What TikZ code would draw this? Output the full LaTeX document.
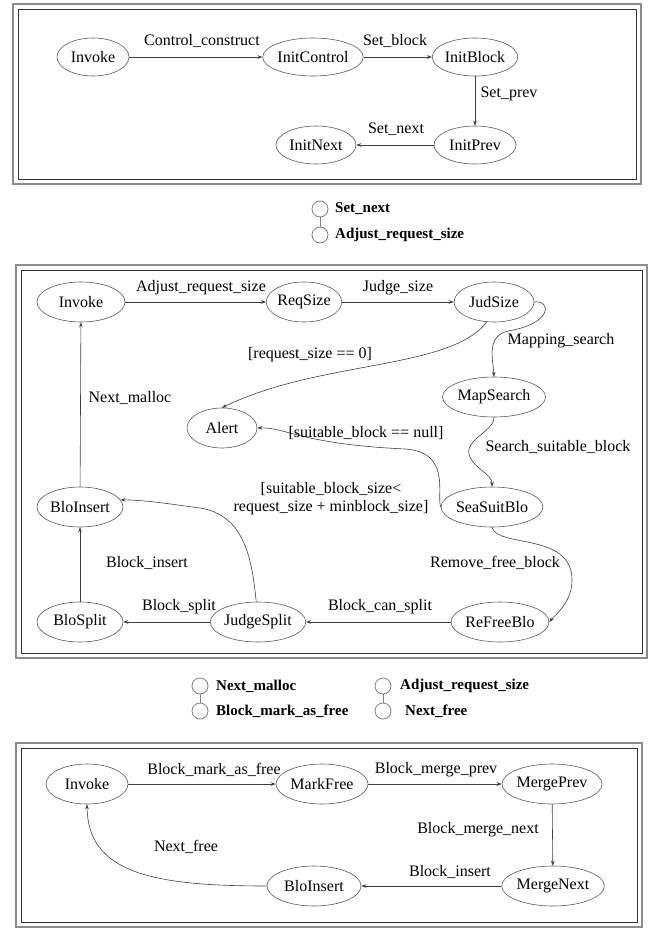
\documentclass[tikz,border=0pt]{standalone}
\usepackage{fontspec}
\setmainfont{Liberation Serif}
\usetikzlibrary{shapes.geometric,arrows.meta}

\begin{document}
\begin{tikzpicture}[x=1pt, y=-1pt, ->, >={Stealth[length=5pt,width=3.6pt]},
      every node/.append style={font=\fontsize{16}{16}\selectfont},
      state/.style={ellipse, draw=black!65, line width=0.6pt, minimum height=38pt,
        inner sep=0pt, font=\fontsize{16}{16}\selectfont},
      trans/.style={draw=black!75, line width=0.6pt}]
    \tikzstyle{lbl} = [inner sep=0pt, font=\fontsize{16}{16}\selectfont]
    \tikzstyle{legcirc} = [circle, draw=black!50, line width=0.8pt, minimum size=16pt, inner sep=0pt]
    \tikzstyle{legtext} = [anchor=west, inner sep=0pt, font=\bfseries\fontsize{15}{15}\selectfont]
    \tikzstyle{frameout} = [-, draw=black!45, line width=1.4pt]
    \tikzstyle{framein} = [-, draw=black!80, line width=0.7pt]
    \useasboundingbox (0,0) rectangle (654,928);

    % init
    \draw[frameout] (13,4) rectangle (641,184);
    \draw[framein] (18,9) rectangle (636,179);
    \node[state, minimum width=72pt] (invoke1) at (93,57) {Invoke};
    \node[state, minimum width=94pt] (initControl) at (313,57) {InitControl};
    \node[state, minimum width=82pt] (initBlock) at (475,57) {InitBlock};
    \node[state, minimum width=82pt] (initPrev) at (475,145) {InitPrev};
    \node[state, minimum width=80pt] (initNext) at (316,145) {InitNext};
    \draw[trans] (invoke1) -- (initControl);
    \draw[trans] (initControl) -- (initBlock);
    \draw[trans] (initBlock) -- (initPrev);
    \draw[trans] (initPrev) -- (initNext);
    \node[lbl] (lCtrl) at (202,41) {Control\_construct};
    \node[lbl] (lSetBlock) at (395,41) {Set\_block};
    \node[lbl] (lSetPrev) at (509,94) {Set\_prev};
    \node[lbl] (lSetNext) at (396,129) {Set\_next};

    % legend of init
    \node[legcirc] (c1a) at (320,209) {};
    \node[legcirc] (c1b) at (320,235) {};
    \draw[-, draw=black!50, line width=0.8pt] (c1a) -- (c1b);
    \node[legtext] (t1a) at (335,209) {Set\_next};
    \node[legtext] (t1b) at (335,235) {Adjust\_request\_size};

    % malloc
    \draw[frameout] (16,265) rectangle (647,658);
    \draw[framein] (21,270) rectangle (642,653);
    \node[state, minimum width=88pt, minimum height=40pt] (invoke2) at (81,302) {Invoke};
    \node[state, minimum width=64pt, minimum height=40pt] (reqSize) at (304,302) {ReqSize};
    \node[state, minimum width=80pt, minimum height=40pt] (judSize) at (494,302) {JudSize};
    \node[state, minimum width=96pt, minimum height=40pt] (mapSearch) at (494,397) {MapSearch};
    \node[state, minimum width=70pt, minimum height=40pt] (alert) at (222,428) {Alert};
    \node[state, minimum width=92pt, minimum height=40pt] (seaSuitBlo) at (492,507) {SeaSuitBlo};
    \node[state, minimum width=86pt, minimum height=40pt] (bloInsert2) at (80,507) {BloInsert};
    \node[state, minimum width=86pt, minimum height=40pt] (bloSplit) at (80,622) {BloSplit};
    \node[state, minimum width=92pt, minimum height=40pt] (judgeSplit) at (258,622) {JudgeSplit};
    \node[state, minimum width=92pt, minimum height=40pt] (reFreeBlo) at (500,622) {ReFreeBlo};
    \draw[trans] (invoke2) -- (reqSize);
    \draw[trans] (reqSize) -- (judSize);
    \draw[trans] (judSize.250) .. controls (450,370) and (320,360) .. (alert.north);
    \draw[trans] (judSize.east) .. controls (552,300) and (552,324) .. (508,331)
      .. controls (486,336) and (493,360) .. (mapSearch.north);
    \draw[trans] (mapSearch.south) .. controls (494,432) and (462,440) .. (470,457)
      .. controls (476,470) and (492,474) .. (seaSuitBlo.north);
    \draw[trans] (seaSuitBlo.west) .. controls (436,496) and (452,452) .. (405,449)
      .. controls (300,444) and (285,427) .. (alert.east);
    \draw[trans] (seaSuitBlo.south) .. controls (497,548) and (572,532) .. (572,580)
      .. controls (572,602) and (556,614) .. (reFreeBlo.east);
    \draw[trans] (reFreeBlo) -- (judgeSplit);
    \draw[trans] (judgeSplit) -- (bloSplit);
    \draw[trans] (bloSplit) -- (bloInsert2);
    \draw[trans] (bloInsert2) -- (invoke2);
    \draw[trans] (judgeSplit.95) .. controls (252,560) and (245,515) .. (200,508)
      .. controls (170,504) and (145,500) .. (bloInsert2.10);
    \node[lbl] (lAdjust) at (201,288) {Adjust\_request\_size};
    \node[lbl] (lJudge) at (398,288) {Judge\_size};
    \node[lbl] (lZero) at (310,355) {[request\_size == 0]};
    \node[lbl] (lMapping) at (561,341) {Mapping\_search};
    \node[lbl] (lNextMalloc) at (130,398) {Next\_malloc};
    \node[lbl] (lNull) at (366,433) {[suitable\_block == null]};
    \node[lbl] (lSearch) at (558,447) {Search\_suitable\_block};
    \node[lbl, align=center] (lSplitCond) at (331,499) {[suitable\_block\_size<\\[2pt]request\_size + minblock\_size]};
    \node[lbl] (lInsert2) at (147,563) {Block\_insert};
    \node[lbl] (lRemove) at (495,563) {Remove\_free\_block};
    \node[lbl] (lSplit) at (179,607) {Block\_split};
    \node[lbl] (lCanSplit) at (380,607) {Block\_can\_split};

    % legend of malloc
    \node[legcirc] (c2a) at (200,686) {};
    \node[legcirc] (c2b) at (200,711) {};
    \node[legcirc] (c3a) at (383,686) {};
    \node[legcirc] (c3b) at (383,711) {};
    \draw[-, draw=black!50, line width=0.8pt] (c2a) -- (c2b);
    \draw[-, draw=black!50, line width=0.8pt] (c3a) -- (c3b);
    \node[legtext] (t2a) at (216,686) {Next\_malloc};
    \node[legtext] (t2b) at (216,711) {Block\_mark\_as\_free};
    \node[legtext] (t3a) at (400,686) {Adjust\_request\_size};
    \node[legtext] (t3b) at (405,711) {Next\_free};

    % free
    \draw[frameout] (16,743) rectangle (642,927);
    \draw[framein] (21,748) rectangle (637,922);
    \node[state, minimum width=82pt, minimum height=40pt] (invoke3) at (87,784) {Invoke};
    \node[state, minimum width=92pt, minimum height=40pt] (markFree) at (322,784) {MarkFree};
    \node[state, minimum width=94pt, minimum height=40pt] (mergePrev) at (552,784) {MergePrev};
    \node[state, minimum width=92pt, minimum height=40pt] (mergeNext) at (553,886) {MergeNext};
    \node[state, minimum width=94pt, minimum height=40pt] (bloInsert3) at (314,886) {BloInsert};
    \draw[trans] (invoke3) -- (markFree);
    \draw[trans] (markFree) -- (mergePrev);
    \draw[trans] (mergePrev) -- (mergeNext);
    \draw[trans] (mergeNext) -- (bloInsert3);
    \draw[trans] (bloInsert3.west) .. controls (150,886) and (88,872) .. (invoke3.south);
    \node[lbl] (lMark) at (214,770) {Block\_mark\_as\_free};
    \node[lbl] (lMergePrev) at (436,770) {Block\_merge\_prev};
    \node[lbl] (lMergeNext) at (478,830) {Block\_merge\_next};
    \node[lbl] (lNextFree) at (186,847) {Next\_free};
    \node[lbl] (lInsert3) at (450,872) {Block\_insert};
  \end{tikzpicture}
\end{document}
